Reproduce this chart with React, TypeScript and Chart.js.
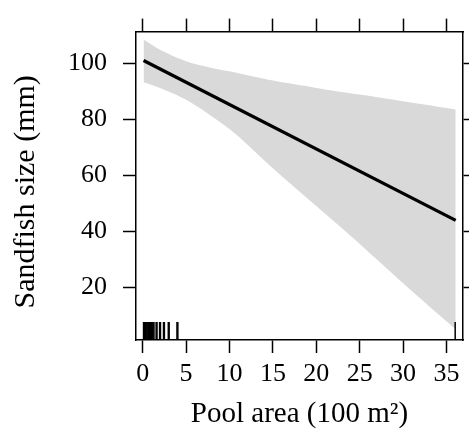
import React, { useEffect, useRef } from 'react';
import { Chart, registerables } from 'chart.js';

Chart.register(...registerables);

// Pool area (100 m^2) positions where the band/fit were read
const bandX = [0.1, 2, 5, 8, 10.8, 15, 20, 25, 30, 36.06];
const upperCI = [108.5, 104.8, 100.7, 98.3, 96.6, 93.8, 91.2, 88.8, 86.4, 83.5];
const lowerCI = [93.2, 91.2, 87, 81, 74.5, 62.5, 49, 35.5, 21.5, 5];
const fitX = [0.1, 36.06];
const fitY = [101, 43.9];
const rugX = [0.1, 0.2, 0.3, 0.4, 0.5, 0.6, 0.7, 0.8, 0.9, 1.0, 1.1, 1.2, 1.3, 1.55, 1.65, 1.95, 2.05, 2.4, 2.5, 2.95, 3.05, 3.95, 4.05, 36.0];
const xTicks = [0, 5, 10, 15, 20, 25, 30, 35];
const yTicks = [20, 40, 60, 80, 100];

const FONT = "'Liberation Serif', 'DejaVu Serif', serif";

const rugPlugin = {
  id: 'rug',
  afterDatasetsDraw(chart: any) {
    const { ctx, chartArea, scales } = chart;
    const xs = scales.x;
    ctx.save();
    ctx.strokeStyle = '#000';
    ctx.lineWidth = 1.5;
    rugX.forEach((v) => {
      const px = xs.getPixelForValue(v);
      ctx.beginPath();
      ctx.moveTo(px, chartArea.bottom);
      ctx.lineTo(px, chartArea.bottom - 18);
      ctx.stroke();
    });
    ctx.restore();
  },
};

export default function App() {
  const ref = useRef<HTMLCanvasElement>(null);
  useEffect(() => {
    document.body.style.margin = '0';
    const grid = {
      display: true,
      drawOnChartArea: false,
      drawTicks: true,
      tickLength: 13,
      tickColor: '#000',
      tickWidth: 1.5,
      color: '#000',
    };
    const border = { display: true, color: '#000', width: 1.5 };
    const chart = new Chart(ref.current!, {
      type: 'line',
      data: {
        datasets: [
          {
            label: 'fit',
            data: fitX.map((x, i) => ({ x, y: fitY[i] })),
            borderColor: '#000',
            borderWidth: 3.3,
            pointRadius: 0,
            fill: false,
          },
          {
            label: 'upper',
            data: bandX.map((x, i) => ({ x, y: upperCI[i] })),
            borderWidth: 0,
            borderColor: 'rgba(0,0,0,0)',
            backgroundColor: '#d9d9d9',
            pointRadius: 0,
            fill: '+1',
            tension: 0.3,
          },
          {
            label: 'lower',
            data: bandX.map((x, i) => ({ x, y: lowerCI[i] })),
            borderWidth: 0,
            borderColor: 'rgba(0,0,0,0)',
            pointRadius: 0,
            fill: false,
            tension: 0.3,
          },
        ],
      },
      options: {
        animation: false,
        responsive: false,
        maintainAspectRatio: false,
        layout: { padding: 0 },
        plugins: { legend: { display: false }, tooltip: { enabled: false } },
        scales: {
          x: {
            type: 'linear',
            position: 'bottom',
            min: -0.77,
            max: 36.9,
            afterBuildTicks: (s: any) => { s.ticks = xTicks.map((v) => ({ value: v })); },
            afterFit: (s: any) => { s.height = 106; },
            ticks: { color: '#000', font: { family: FONT, size: 26 }, padding: 6, maxRotation: 0, autoSkip: false },
            grid,
            border,
            title: { display: true, text: 'Pool area (100 m²)', color: '#000', font: { family: FONT, size: 29 }, padding: { top: 16, bottom: 14 } },
          },
          x2: {
            type: 'linear',
            position: 'top',
            min: -0.77,
            max: 36.9,
            afterBuildTicks: (s: any) => { s.ticks = xTicks.map((v) => ({ value: v })); },
            afterFit: (s: any) => { s.height = 31; },
            ticks: { display: false },
            grid,
            border,
          },
          y: {
            type: 'linear',
            position: 'left',
            min: 1.2,
            max: 111.3,
            afterBuildTicks: (s: any) => { s.ticks = yTicks.map((v) => ({ value: v })); },
            afterFit: (s: any) => { s.width = 136; },
            ticks: { color: '#000', font: { family: FONT, size: 26 }, padding: 16 },
            grid,
            border,
            title: { display: true, text: 'Sandfish size (mm)\u2009\u2009', color: '#000', font: { family: FONT, size: 30 }, padding: { top: 8, bottom: 8 } },
          },
          y2: {
            type: 'linear',
            position: 'right',
            min: 1.2,
            max: 111.3,
            afterBuildTicks: (s: any) => { s.ticks = yTicks.map((v) => ({ value: v })); },
            afterFit: (s: any) => { s.width = 6; },
            ticks: { display: false },
            grid,
            border,
          },
        },
      },
      plugins: [rugPlugin],
    });
    return () => chart.destroy();
  }, []);
  return (
    <div style={{ position: 'fixed', left: 0, top: 0, width: 469, height: 446, background: '#fff' }}>
      <canvas ref={ref} width={469} height={446} style={{ width: 469, height: 446 }} />
    </div>
  );
}
